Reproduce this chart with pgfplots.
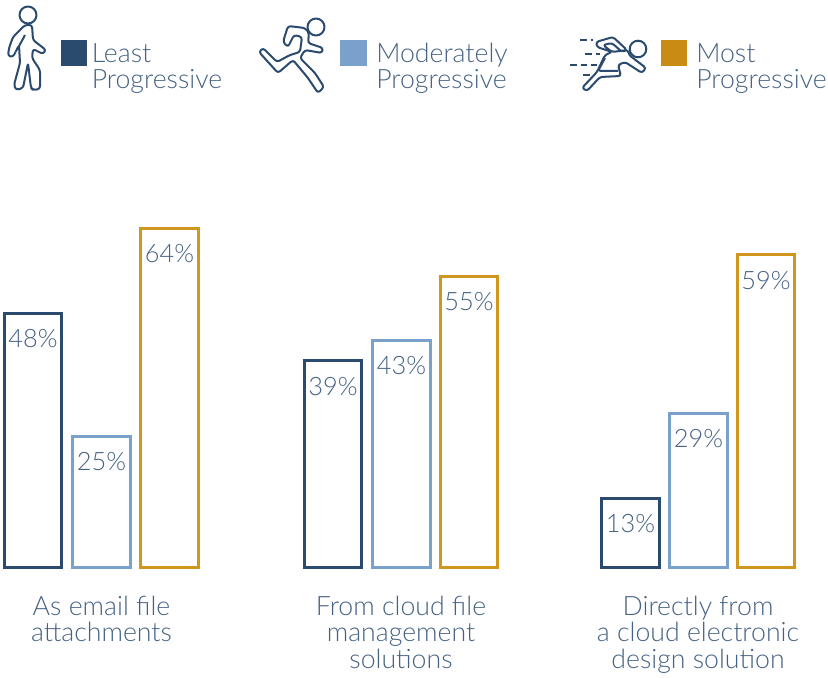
\documentclass[border=0pt]{standalone}
\usepackage{pgfplots}
\pgfplotsset{compat=1.18}
\usepackage{fontspec}
\setmainfont{Lato Light}
\definecolor{navy}{HTML}{2A4B6D}
\definecolor{lblue}{HTML}{7AA0CC}
\definecolor{gold}{HTML}{C98B14}
\definecolor{goldline}{HTML}{D1961E}
\definecolor{txt}{HTML}{466283}
\newcommand{\lbl}{\fontsize{20}{19.9}\selectfont}
\begin{document}
\begin{tikzpicture}[px/.style={x=.75pt,y=-.75pt,yshift=425.25pt}]
\begin{scope}[px]
\useasboundingbox (0,0) rectangle (828,672);
\end{scope}
\begin{axis}[
  at={(0,0)},anchor=origin,
  scale only axis,width=621pt,height=425.25pt,
  xmin=0,xmax=828,ymin=0,ymax=107.2,
  clip=false,
  axis line style={draw=none},
  major tick style={draw=none},
  ytick=\empty,
  xtick={101.5,401,698},
  xticklabels={As email file\\attachments,From cloud file\\management\\solutions,Directly from\\a cloud electronic\\design solution},
  xticklabel style={align=center,text=txt,font=\lbl,yshift=-18pt},
  nodes near coords={\pgfmathprintnumber[precision=0,assume math mode=true]{\pgfplotspointmeta}\%},
  nodes near coords style={anchor=center,yshift=-19pt,text=txt,font=\fontsize{19}{20}\selectfont},
  every axis plot/.append style={ybar,bar shift=0pt,bar width=43.25pt,line width=2.25pt,fill=white},
]
\addplot[draw=navy] coordinates {(33,48)(333,39)(630.5,13)};
\addplot[draw=lblue] coordinates {(101.5,24.7)(401.5,42.8)(698.5,29)};
\addplot[draw=goldline] coordinates {(169.5,64)(469,55)(766,59)};
\end{axis}
\begin{scope}[px]
\fill[navy] (61,40) rectangle (87,66);
\fill[lblue] (340,40) rectangle (367,66);
\fill[gold] (661,40) rectangle (687,66);
\foreach \x/\a in {91.5/Least,376/Moderately,696/Most}{
  \node[anchor=base west,inner sep=0pt,text=txt,font=\lbl] at (\x,62.5) {\a};
  \node[anchor=base west,inner sep=0pt,text=txt,font=\lbl] at (\x,89) {Progressive};
}
\begin{scope}[draw=navy,line width=1.5pt,rounded corners=2pt,line join=round]
% walker
\draw (28,15) circle (8.5);
\draw (25,25)--(32,25)--(33,40)--(46,50)--(43,54)--(33,49)--(32,58)--(40,70)--(40,89)--(33,90)--(31,88)--(28,63)--(23,88)--(16,90)--(14,85)--(20,63)--(19,45)--(13,57)--(8,56)--(9,48)--(13,37)--cycle;
\draw (25,35)--(17,50);
% runner
\draw (316,27) circle (8.5);
\draw (259,52)--(263,48)--(277,62)--(290,55)--(300,52)--(302,37)--(294,35)--(288,47)--(283,42)--(288,26)--(305,28)--(309,33)--(308,43)--(323,48)--(322,53)--(305,50)--(300,58)--(315,73)--(324,87)--(318,93)--(308,78)--(293,60)--(278,73)--cycle;
% sprinter
\draw (638,49) circle (8.3);
\draw (596,42)--(613,37)--(627,50)--(622,52)--(612,43)--(603,45)--(612,52)--(628,50)--(629,55)--(646,68)--(642,73)--(625,62)--(618,65)--(621,76)--(600,77)--(587,91)--(582,88)--(597,72)--(605,55)--(612,52)--(597,47)--cycle;
\draw (605,58)--(598,71)--(618,71);
\end{scope}
\draw[navy,line width=1.5pt,dash pattern=on 5pt off 3pt] (580,40)--(593,40) (585,54)--(600,54) (570,65)--(597,65) (583,75)--(592,75);
\end{scope}
\end{tikzpicture}
\end{document}
